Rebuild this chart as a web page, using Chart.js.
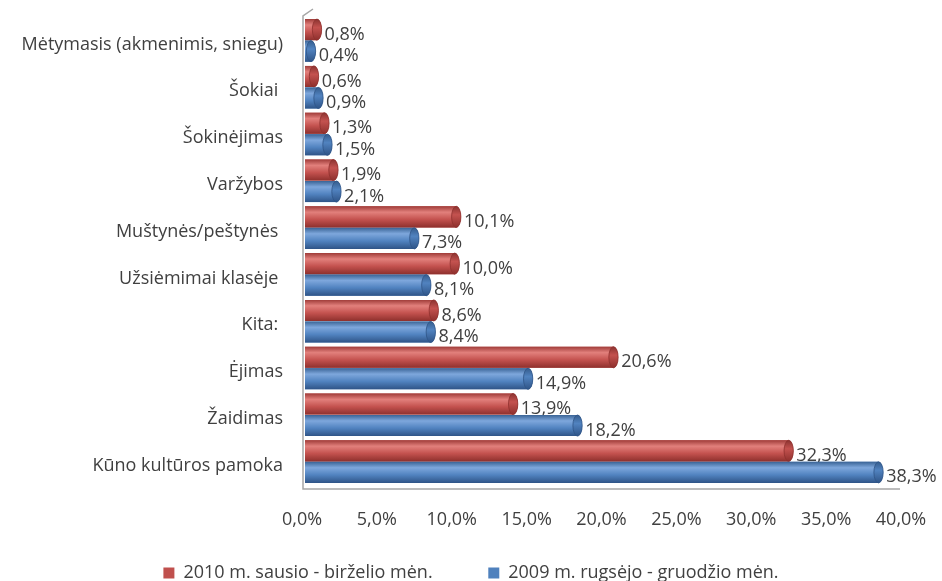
<!DOCTYPE html>
<html>
<head>
<meta charset="utf-8">
<script src="https://cdn.jsdelivr.net/npm/chart.js@4.4.1/dist/chart.umd.min.js"></script>
<style>
  html, body { margin: 0; padding: 0; background: #fff; }
  #wrap { position: relative; width: 942px; height: 581px; }
</style>
</head>
<body>
<div id="wrap"><canvas id="chart"></canvas></div>
<script>
const categories = [
  "Mėtymasis (akmenimis, sniegu)",
  "Šokiai ",
  "Šokinėjimas",
  "Varžybos",
  "Muštynės/peštynės ",
  "Užsiėmimai klasėje ",
  "Kita: ",
  "Ėjimas",
  "Žaidimas",
  "Kūno kultūros pamoka"
];
const series2010 = [0.8, 0.6, 1.3, 1.9, 10.1, 10.0, 8.6, 20.6, 13.9, 32.3];
const series2009 = [0.4, 0.9, 1.5, 2.1, 7.3, 8.1, 8.4, 14.9, 18.2, 38.3];
const label2010 = "2010 m. sausio - birželio mėn.";
const label2009 = "2009 m. rugsėjo - gruodžio mėn.";

const FONT = "'Open Sans', sans-serif";
const TEXT = "#404040";

const fmt = v => v.toFixed(1).replace(".", ",") + "%";

// shades for the cylinder look: [dark edge, light band, base, dark bottom, cap]
const shades = {
  red:  ["#a03c39", "#e2807c", "#c4524f", "#8e302d", "#8a3330"],
  blue: ["#3a6496", "#7ea7dc", "#5183c0", "#2f5487", "#355c8c"]
};

const cylinders = {
  id: "cylinders",
  afterDatasetsDraw(chart) {
    const ctx = chart.ctx;
    chart.data.datasets.forEach((ds, i) => {
      const meta = chart.getDatasetMeta(i);
      const s = shades[ds.shade];
      meta.data.forEach((bar, j) => {
        const h = bar.height;
        const top = bar.y - h / 2;
        const x0 = bar.base, x1 = bar.x;
        const rx = Math.max(3, h * 0.22);
        ctx.save();
        const g = ctx.createLinearGradient(0, top, 0, top + h);
        g.addColorStop(0, s[0]);
        g.addColorStop(0.28, s[1]);
        g.addColorStop(0.62, s[2]);
        g.addColorStop(1, s[3]);
        ctx.fillStyle = g;
        ctx.beginPath();
        ctx.moveTo(x0, top);
        ctx.lineTo(x1, top);
        ctx.ellipse(x1, bar.y, rx, h / 2, 0, -Math.PI / 2, Math.PI / 2, false);
        ctx.lineTo(x0, top + h);
        ctx.closePath();
        ctx.fill();
        // end face
        const gc = ctx.createLinearGradient(0, top, 0, top + h);
        gc.addColorStop(0, s[4]);
        gc.addColorStop(0.4, s[2]);
        gc.addColorStop(1, s[3]);
        ctx.fillStyle = gc;
        ctx.beginPath();
        ctx.ellipse(x1, bar.y, rx, h / 2, 0, 0, Math.PI * 2);
        ctx.fill();
        ctx.strokeStyle = s[3];
        ctx.lineWidth = 0.8;
        ctx.stroke();
        // value label
        ctx.fillStyle = TEXT;
        ctx.font = "18px " + FONT;
        ctx.textAlign = "left";
        ctx.textBaseline = "middle";
        ctx.fillText(fmt(ds.data[j]), x1 + rx + 3, bar.y + 5);
        ctx.restore();
      });
    });
  }
};

const wall = {
  id: "wall",
  beforeDatasetsDraw(chart) {
    const a = chart.chartArea, ctx = chart.ctx;
    ctx.save();
    ctx.strokeStyle = "#a6a6a6";
    ctx.lineWidth = 1.5;
    ctx.beginPath();
    ctx.moveTo(a.left + 8, a.top - 8);
    ctx.lineTo(a.left - 2, a.top - 1);
    ctx.lineTo(a.left - 2, a.bottom + 4);
    ctx.lineTo(a.right - 4, a.bottom + 4);
    ctx.stroke();
    ctx.restore();
  }
};

new Chart(document.getElementById("chart"), {
  type: "bar",
  data: {
    labels: categories,
    datasets: [
      { label: label2010, data: series2010, backgroundColor: "#c0504d", shade: "red",
        categoryPercentage: 0.92, barPercentage: 0.98 },
      { label: label2009, data: series2009, backgroundColor: "#4f81bd", shade: "blue",
        categoryPercentage: 0.92, barPercentage: 0.98 }
    ]
  },
  options: {
    indexAxis: "y",
    responsive: true,
    maintainAspectRatio: false,
    animation: false,
    layout: { padding: { left: 0, right: 0, top: 17, bottom: -11 } },
    scales: {
      x: {
        min: 0, max: 40,
        ticks: { stepSize: 5, callback: v => fmt(v), color: TEXT,
                 font: { family: FONT, size: 18 }, padding: 24, labelOffset: -3, maxRotation: 0 },
        grid: { display: false, drawTicks: false },
        border: { display: false },
        afterFit: s => { s.height = 46; s.paddingLeft = 0; s.paddingRight = 0; }
      },
      y: {
        ticks: { color: TEXT, font: { family: FONT, size: 18 }, padding: 22, labelOffset: 4,
                 autoSkip: false },
        grid: { display: false, drawTicks: false },
        border: { display: false },
        afterFit: s => { s.width = 305; s.paddingTop = 0; s.paddingBottom = 0; }
      },
      // empty right-hand axis, only reserves the right margin
      yRight: {
        type: "category",
        position: "right",
        ticks: { display: false },
        grid: { display: false, drawTicks: false },
        border: { display: false },
        afterFit: s => { s.width = 38; s.paddingTop = 0; s.paddingBottom = 0; }
      }
    },
    plugins: {
      legend: {
        position: "bottom",
        labels: {
          color: TEXT, font: { family: FONT, size: 18 }, boxWidth: 11, boxHeight: 11,
          padding: 33,
          generateLabels: chart => {
            const items = Chart.defaults.plugins.legend.labels.generateLabels(chart);
            items[0].text += " \u2002\u2002";
            return items;
          }
        }
      },
      tooltip: { enabled: false }
    }
  },
  plugins: [wall, cylinders]
});
</script>
</body>
</html>
